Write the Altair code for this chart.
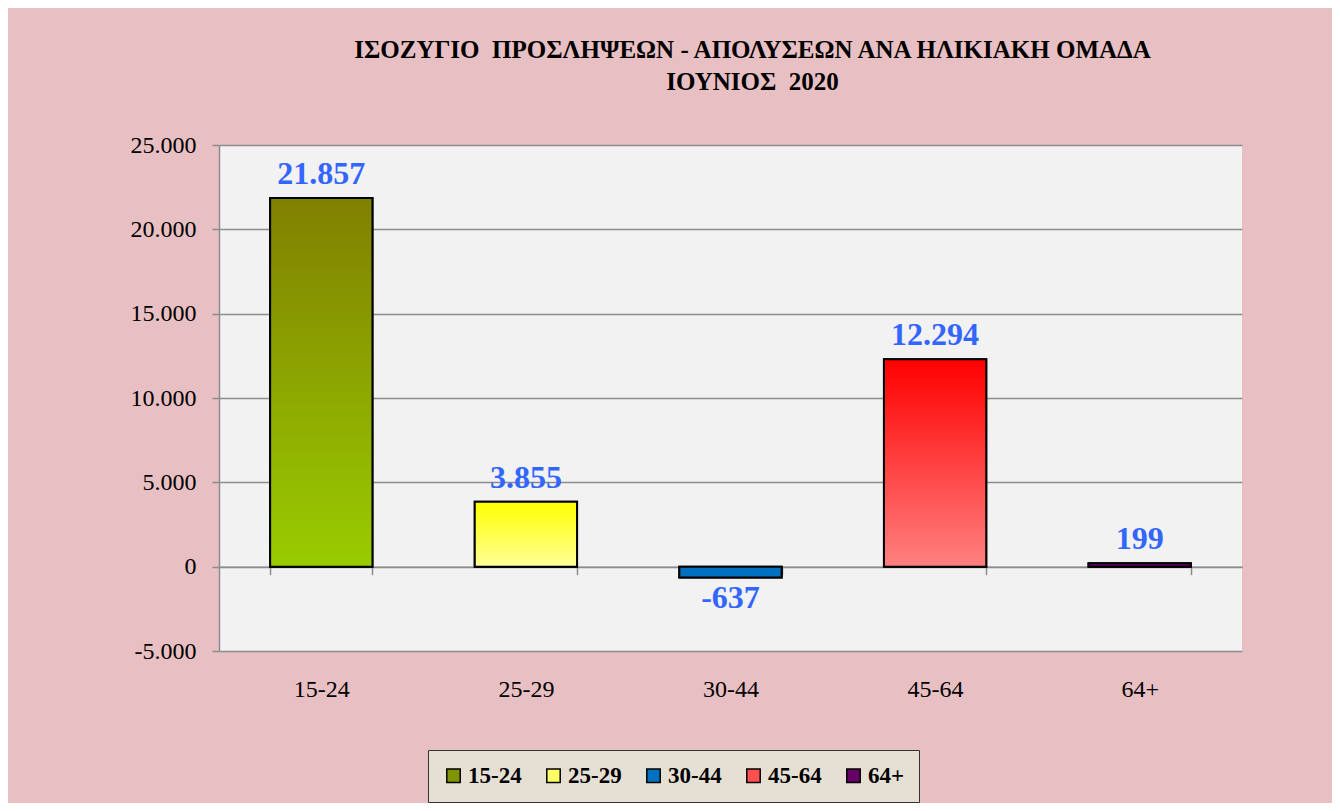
import altair as alt
import pandas as pd

categories = ["15-24", "25-29", "30-44", "45-64", "64+"]
values = [21857, 3855, -637, 12294, 199]
value_labels = ["21.857", "3.855", "-637", "12.294", "199"]
grad_top = ["#808000", "#ffff00", "#0070c0", "#ff0000", "#660066"]
grad_bottom = ["#99cc00", "#ffff99", "#0070c0", "#ff8080", "#660066"]
legend_colors = ["#809400", "#ffff66", "#0070c0", "#ff5050", "#660066"]
y_ticks = [-5000, 0, 5000, 10000, 15000, 20000, 25000]
title_lines = ["ΙΣΟΖΥΓΙΟ \u00a0ΠΡΟΣΛΗΨΕΩΝ - ΑΠΟΛΥΣΕΩΝ ΑΝΑ ΗΛΙΚΙΑΚΗ ΟΜΑΔΑ", "ΙΟΥΝΙΟΣ \u00a02020"]

FONT = "Liberation Serif"
GRID = "#8c8c8c"
PLOT_W, PLOT_H = 1023, 506

df = pd.DataFrame({"cat": categories, "value": values, "label": value_labels})

x = alt.X(
    "cat:N",
    sort=categories,
    scale=alt.Scale(domain=categories, paddingInner=0.5, paddingOuter=0.25),
    axis=alt.Axis(
        title=None, orient="bottom", offset=-PLOT_H * 5000 / 30000,
        tickBand="extent", labelPadding=103, labelAngle=0,
        domainColor=GRID, tickColor=GRID, tickSize=8, domainWidth=1.5, tickWidth=1.5,
        labelFont=FONT, labelFontSize=24, labelColor="black", grid=False,
    ),
)
y = alt.Y(
    "value:Q",
    scale=alt.Scale(domain=[-5000, 25000], nice=False, zero=False),
    axis=alt.Axis(
        title=None, values=y_ticks, grid=True, gridColor=GRID, gridWidth=1.5,
        domainColor=GRID, domainWidth=1.5, tickColor=GRID, tickWidth=1.5, tickSize=7,
        labelPadding=16, labelFont=FONT, labelFontSize=24, labelColor="black",
        labelExpr="replace(replace(format(datum.value, ','), ',', '.'), '\u2212', '-')",
    ),
)

base = alt.Chart(df).mark_bar(stroke="black", strokeWidth=2).encode(
    x=x, y=y,
    color=alt.Color(
        "cat:N",
        scale=alt.Scale(domain=categories, range=legend_colors),
        legend=alt.Legend(
            title=None, orient="none", legendX=209, legendY=605,
            direction="horizontal", columns=5, symbolType="square", symbolSize=180,
            symbolStrokeColor="black", symbolStrokeWidth=1.5, symbolOpacity=1,
            labelFont=FONT, labelFontSize=23, labelFontWeight="bold", labelColor="black",
            labelOffset=3, columnPadding=20, padding=14,
            fillColor="#e6dfd3", strokeColor="#333333",
        ),
    ),
)

layers = [base]
for c, top, bot in zip(categories, grad_top, grad_bottom):
    layers.append(
        alt.Chart(df).transform_filter(alt.datum.cat == c).mark_bar(
            fill=alt.Gradient(
                gradient="linear",
                stops=[alt.GradientStop(color=top, offset=0), alt.GradientStop(color=bot, offset=1)],
                x1=0, x2=0, y1=0, y2=1,
            ),
            stroke="black", strokeWidth=2,
        ).encode(x=x, y=y)
    )

txt_style = dict(font=FONT, fontSize=32, fontWeight="bold", color="#3366ff")
pos_text = alt.Chart(df).transform_filter(alt.datum.value >= 0).mark_text(
    baseline="bottom", dy=-7, **txt_style
).encode(x=x, y=y, text="label:N")
neg_text = alt.Chart(df).transform_filter(alt.datum.value < 0).mark_text(
    baseline="top", dy=6, **txt_style
).encode(x=x, y=y, text="label:N")
layers += [pos_text, neg_text]

chart = alt.layer(*layers).properties(
    width=PLOT_W, height=PLOT_H,
    autosize=alt.AutoSizeParams(type="none"),
    padding={"left": 211, "top": 137, "right": 90, "bottom": 152},
    title=alt.TitleParams(
        text=title_lines, font=FONT, fontSize=25, fontWeight="bold", color="black",
        anchor="middle", dx=22, offset=38, lineHeight=32,
    ),
).configure(background="#e8bfc2").configure_view(fill="#f2f2f2", stroke=None)

chart.save("out.html", embed_options={"renderer": "svg", "actions": False})
